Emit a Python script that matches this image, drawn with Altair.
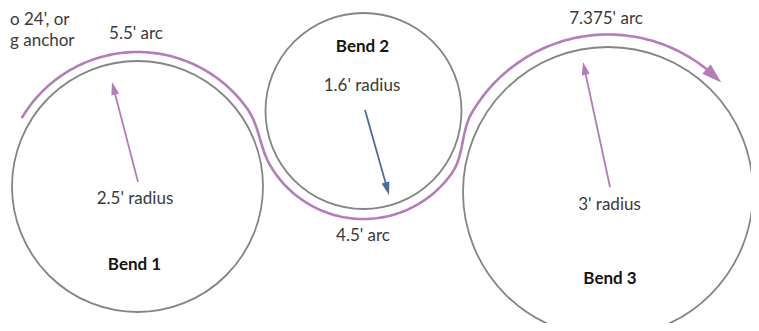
import numpy as np
import pandas as pd
import altair as alt

# ---- diagram data (page-pixel coordinates) ----
bend_names = ["Bend 1", "Bend 2", "Bend 3"]
bend_cx = [137.5, 363.5, 608.0]
bend_cy = [186.5, 111.0, 192.0]
bend_r = [125.5, 98.0, 145.0]
path_gap = [9.0, 10.0, 12.5]          # distance of purple path outside each circle

# purple path: arcs (deg, screen convention: 0=right, 90=down)
arc1_deg = [-149, -35]
arc2_deg = [150, 35]
arc3_deg = [-150, -47]
arrow_tip_deg = -44

# radius arrows: start -> tip
rad_x0 = [138, 365, 610]
rad_y0 = [182, 110, 187]
rad_x1 = [112, 389, 583]
rad_y1 = [82, 195, 62]
rad_color = ["#b57cba", "#4b6b9b", "#b57cba"]

label_text = ["5.5' arc", "1.6' radius", "7.375' arc", "2.5' radius", "4.5' arc", "3' radius"]
label_x = [136, 362, 606, 135, 363, 609.5]
label_y = [39, 91, 24, 204, 241, 210]

bold_text = ["Bend 1", "Bend 2", "Bend 3"]
bold_x = [134.5, 362.5, 610]
bold_y = [270, 52, 284]

side_text = ["o 24', or", "g anchor"]
side_x = [10, 10]
side_y = [25, 46]

PURPLE = "#b57cba"
GRAY = "#858585"
FONT = "Lato"

# ---- geometry built from the data ----
def arc(i, a0, a1, n=80):
    R = bend_r[i] + path_gap[i]
    a = np.radians(np.linspace(a0, a1, n))
    return bend_cx[i] + R * np.cos(a), bend_cy[i] + R * np.sin(a)

def pt(i, a):
    R = bend_r[i] + path_gap[i]
    a = np.radians(a)
    return np.array([bend_cx[i] + R * np.cos(a), bend_cy[i] + R * np.sin(a)])

def tangent(a, clockwise):
    a = np.radians(a)
    t = np.array([-np.sin(a), np.cos(a)])
    return t if clockwise else -t

def hermite(p0, t0, p1, t1, n=30):
    c = np.linalg.norm(p1 - p0)
    s = np.linspace(0, 1, n)[1:-1][:, None]
    h00 = 2 * s**3 - 3 * s**2 + 1
    h10 = s**3 - 2 * s**2 + s
    h01 = -2 * s**3 + 3 * s**2
    h11 = s**3 - s**2
    p = h00 * p0 + h10 * t0 * c + h01 * p1 + h11 * t1 * c
    return p[:, 0], p[:, 1]

xs, ys = [], []
ax, ay = arc(0, *arc1_deg); xs.append(ax); ys.append(ay)
hx, hy = hermite(pt(0, arc1_deg[1]), tangent(arc1_deg[1], True),
                 pt(1, arc2_deg[0]), tangent(arc2_deg[0], False))
xs.append(hx); ys.append(hy)
ax, ay = arc(1, *arc2_deg); xs.append(ax); ys.append(ay)
hx, hy = hermite(pt(1, arc2_deg[1]), tangent(arc2_deg[1], False),
                 pt(2, arc3_deg[0]), tangent(arc3_deg[0], True))
xs.append(hx); ys.append(hy)
ax, ay = arc(2, *arc3_deg); xs.append(ax); ys.append(ay)
px = np.concatenate(xs); py = np.concatenate(ys)
path_df = pd.DataFrame({"x": px, "y": py, "o": np.arange(len(px))})

# arrowheads
HEAD = "M0,-1L0.62,1L-0.62,1Z"
heads = []
tip = pt(2, arrow_tip_deg)
mid_deg = arrow_tip_deg - 3.5
d = tangent(mid_deg, True)
L = 20
c = tip - d * L / 2
heads.append({"x": c[0], "y": c[1], "ang": np.degrees(np.arctan2(d[1], d[0])) + 90,
              "size": L**2, "col": PURPLE})
rules = []
for x0, y0, x1, y1, col in zip(rad_x0, rad_y0, rad_x1, rad_y1, rad_color):
    v = np.array([x1 - x0, y1 - y0], float)
    u = v / np.linalg.norm(v)
    Lh = 13
    c = np.array([x1, y1]) - u * Lh / 2
    e = np.array([x1, y1]) - u * (Lh - 3)
    heads.append({"x": c[0], "y": c[1], "ang": np.degrees(np.arctan2(u[1], u[0])) + 90,
                  "size": Lh**2, "col": col})
    rules.append({"x": x0, "y": y0, "x2": e[0], "y2": e[1], "col": col})
heads_df = pd.DataFrame(heads)
rules_df = pd.DataFrame(rules)

circ_df = pd.DataFrame({"name": bend_names, "x": bend_cx, "y": bend_cy,
                        "size": [(2 * r) ** 2 for r in bend_r]})

W, H = 743, 315
xs_ = alt.Scale(domain=[8, 8 + W], nice=False, zero=False)
ys_ = alt.Scale(domain=[8, 8 + H], nice=False, zero=False, reverse=True)
X = lambda f="x": alt.X(f + ":Q", scale=xs_, axis=None)
Y = lambda f="y": alt.Y(f + ":Q", scale=ys_, axis=None)

circles = alt.Chart(circ_df).mark_point(shape="circle", filled=False, color=GRAY,
                                        strokeWidth=1.8, opacity=1).encode(
    x=X(), y=Y(), size=alt.Size("size:Q", scale=None))

path = alt.Chart(path_df).mark_line(color=PURPLE, strokeWidth=2.6, strokeCap="round").encode(
    x=X(), y=Y(), order="o:Q")

rad = alt.Chart(rules_df).mark_rule(strokeWidth=1.8).encode(
    x=X(), y=Y(), x2="x2:Q", y2="y2:Q", color=alt.Color("col:N", scale=None))

head = alt.Chart(heads_df).mark_point(shape=HEAD, filled=True, opacity=1, strokeWidth=0).encode(
    x=X(), y=Y(), angle=alt.Angle("ang:Q", scale=None), size=alt.Size("size:Q", scale=None),
    color=alt.Color("col:N", scale=None))

labels = alt.Chart(pd.DataFrame({"t": label_text, "x": label_x, "y": label_y})).mark_text(
    font=FONT, fontSize=17, color="#3a3a3a", align="center", baseline="alphabetic").encode(
    x=X(), y=Y(), text="t:N")

bold = alt.Chart(pd.DataFrame({"t": bold_text, "x": bold_x, "y": bold_y})).mark_text(
    font=FONT, fontSize=17, fontWeight="bold", color="#151515", align="center",
    baseline="alphabetic").encode(x=X(), y=Y(), text="t:N")

side = alt.Chart(pd.DataFrame({"t": side_text, "x": side_x, "y": side_y})).mark_text(
    font=FONT, fontSize=17, color="#3a3a3a", align="left", baseline="alphabetic").encode(
    x=X(), y=Y(), text="t:N")

chart = alt.layer(circles, path, rad, head, labels, bold, side).properties(
    width=W, height=H, padding=0, autosize=alt.AutoSizeParams(type="none")
).configure_view(stroke=None)

chart.save("out.html", embed_options={"renderer": "svg", "actions": False})
